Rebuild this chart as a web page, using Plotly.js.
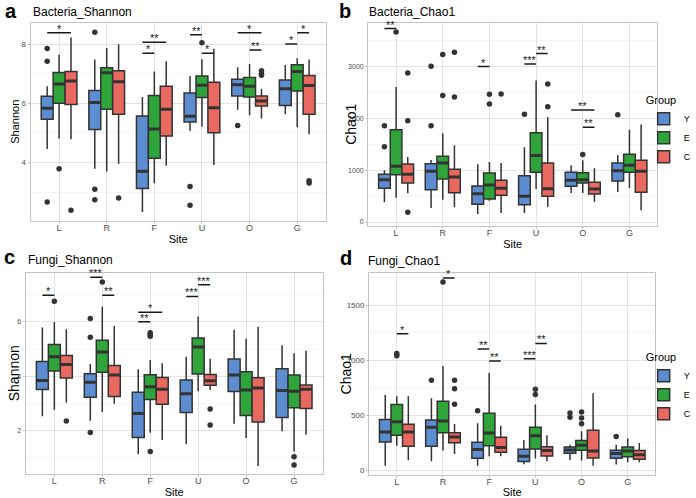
<!DOCTYPE html>
<html><head><meta charset="utf-8">
<script src="https://cdn.plot.ly/plotly-3.0.1.min.js"></script>
<style>html,body{margin:0;padding:0;background:#fff}#chart{width:696px;height:498px}</style>
</head><body><div id="chart"></div>
<script>
const sites = ['L','R','F','U','O','G'];
const groups = ['Y','E','C'];
const groupColors = ['#5b8dd0', '#2ea43a', '#e9685f'];

// Panel a: Bacteria_Shannon  (rows: Y, E, C; columns: L R F U O G)
const aLow  = [[4.46,3.79,2.33,5.07,5.78,5.63],[4.81,3.70,3.30,5.21,5.60,5.19],[4.79,3.96,3.89,3.92,5.49,4.96]];
const aQ1   = [[5.46,5.12,3.13,5.37,6.25,5.93],[6.00,5.80,4.15,6.20,6.21,6.42],[5.96,5.63,4.90,5.01,5.91,5.63]];
const aMed  = [[5.83,6.03,3.71,5.56,6.63,6.49],[6.65,7.03,5.13,6.61,6.58,7.07],[6.75,6.73,5.80,5.85,6.08,6.60]];
const aQ3   = [[6.24,6.43,5.57,6.35,6.81,6.79],[7.04,7.20,6.26,6.92,6.87,7.30],[7.07,7.10,6.58,6.71,6.25,6.94]];
const aHigh = [[6.58,7.48,6.21,6.92,7.22,7.29],[7.64,7.87,7.07,7.49,7.33,7.52],[8.22,7.99,7.42,7.84,6.49,7.48]];
const aOut  = [[[7.85,7.42,2.67],[8.40,3.10,2.75],[],[3.19,2.56],[5.25],[]],
               [[3.79],[],[],[8.04],[],[]],
               [[2.39],[2.81],[],[],[7.10,7.00,6.95],[3.39,3.31]]];
const aSig  = [['L','Y','C',8.38,'*'],['F','Y','E',7.69,'*'],['F','Y','C',8.06,'**'],['U','Y','E',8.31,'**'],
               ['U','E','C',7.69,'*'],['O','Y','C',8.38,'*'],['O','E','C',7.80,'**'],['G','Y','E',8.0,'*'],['G','E','C',8.38,'*']];

// Panel b: Bacteria_Chao1
const bLow  = [[379,270,154,173,558,578],[469,430,411,636,558,655],[552,282,173,295,392,225]];
const bQ1   = [[648,623,340,334,687,790],[912,828,443,957,751,957],[751,565,514,494,539,571]];
const bMed  = [[815,976,546,494,802,989],[1072,1136,713,1278,815,1091],[918,867,648,642,636,976]];
const bQ3   = [[918,1123,693,892,957,1136],[1778,1265,944,1720,950,1303],[1117,1014,803,1136,764,1188]];
const bHigh = [[995,1194,1111,1438,1091,1290],[2600,1708,1156,2722,1188,1778],[1252,1477,1136,2016,1034,1875]];
const bOut  = [[[1855,1451],[2998,1855],[],[2074],[],[2067]],
               [[3660],[3223,2433],[2459,2273],[],[1300],[]],
               [[2870,1950,186],[3268,2408],[2465],[2658,2221],[],[]]];
const bSig  = [['L','Y','E',3724,'**'],['F','Y','E',2992,'*'],['U','Y','E',3043,'***'],['U','E','C',3242,'**'],
               ['O','Y','C',2157,'**'],['O','E','C',1823,'**']];

// Panel c: Fungi_Shannon
const cLow  = [[2.53,2.37,1.14,1.50,2.26,1.98],[2.77,2.69,1.93,3.45,1.73,1.24],[3.04,2.99,1.66,3.50,0.70,1.85]];
const cQ1   = [[3.52,3.23,1.75,2.67,3.44,2.49],[4.20,4.15,3.15,4.09,2.56,2.85],[3.94,3.26,2.97,3.67,2.32,2.82]];
const cMed  = [[3.85,3.78,2.63,3.36,4.05,3.48],[4.72,4.90,3.62,5.08,3.50,3.45],[4.44,4.05,3.53,3.84,3.57,3.53]];
const cQ3   = [[4.55,4.10,3.42,3.87,4.64,4.28],[5.17,5.33,4.06,5.41,4.17,4.05],[4.77,4.40,3.96,4.07,3.95,3.68]];
const cHigh = [[5.80,4.45,4.26,4.72,5.71,5.14],[6.00,6.56,4.60,6.20,5.38,4.85],[5.73,5.85,4.48,4.65,5.82,4.94]];
const cOut  = [[[],[6.13,5.44,1.94],[],[],[],[]],
               [[6.76],[7.47],[5.60,5.53,5.47,1.24],[],[],[1.04,0.74]],
               [[2.36],[],[],[2.80,2.21],[],[]]];
const cSig  = [['L','Y','E',6.98,'*'],['R','Y','E',7.64,'***'],['R','E','C',6.98,'**'],['F','Y','E',6.01,'**'],
               ['F','Y','C',6.36,'*'],['U','Y','E',6.94,'***'],['U','E','C',7.37,'***']];

// Panel d: Fungi_Chao1
const dLow  = [[42,82,42,55,94,52],[224,179,127,106,88,73],[91,148,127,82,42,73]];
const dQ1   = [[258,218,109,79,155,109],[318,342,224,194,182,124],[218,251,164,130,112,100]];
const dMed  = [[348,391,188,127,185,152],[442,448,339,315,227,176],[348,303,206,179,176,142]];
const dQ3   = [[461,458,255,191,212,182],[597,627,518,391,270,212],[418,342,300,215,364,179]];
const dHigh = [[685,654,427,276,233,233],[673,948,885,597,355,288],[673,421,406,318,700,248]];
const dOut  = [[[],[818],[542],[],[520,482],[306]],
               [[1061,1042],[1712],[],[736,688],[530,476,424],[]],
               [[],[818,742,600],[],[],[],[]]];
const dSig  = [['L','E','C',1242,'*'],['R','E','C',1748,'*'],['F','Y','E',1103,'**'],['F','E','C',994,'**'],
               ['U','Y','E',1015,'***'],['U','E','C',1154,'**']];

const panelTitles = ['Bacteria_Shannon','Bacteria_Chao1','Fungi_Shannon','Fungi_Chao1'];
const panelLetters = ['a','b','c','d'];
const yTitles = ['Shannon','Chao1','Shannon','Chao1'];

const panels = [
  {low:aLow,q1:aQ1,med:aMed,q3:aQ3,high:aHigh,out:aOut,sig:aSig},
  {low:bLow,q1:bQ1,med:bMed,q3:bQ3,high:bHigh,out:bOut,sig:bSig},
  {low:cLow,q1:cQ1,med:cMed,q3:cQ3,high:cHigh,out:cOut,sig:cSig},
  {low:dLow,q1:dQ1,med:dMed,q3:dQ3,high:dHigh,out:dOut,sig:dSig}
];

const W = 696, H = 498;
const px = v => v / W, py = v => 1 - v / H;
const boxW = 0.25;                       // ggplot2 dodge width 0.75 / 3 groups
const offsets = {Y:-boxW, E:0, C:boxW};
const FONT = 'Liberation Sans, Arial, sans-serif';
const siteIdx = sites.map((s, i) => i);

const traces = [];
const outlierTraces = [];
const shapes = [];
const annotations = [];

panels.forEach((p, pi) => {
  const sfx = pi === 0 ? '' : String(pi + 1);
  groups.forEach((g, gi) => {
    const xs = siteIdx.map(i => i + offsets[g]);
    traces.push({
      type: 'box',
      name: g,
      x: xs,
      q1: p.q1[gi], median: p.med[gi], q3: p.q3[gi],
      lowerfence: p.low[gi], upperfence: p.high[gi],
      width: boxW,
      boxpoints: false,
      whiskerwidth: 0,
      fillcolor: groupColors[gi],
      line: {color: '#333333', width: 1.5},
      xaxis: 'x' + sfx, yaxis: 'y' + sfx,
      legendgroup: g,
      showlegend: pi === 1 || pi === 3,
      legend: pi === 3 ? 'legend2' : 'legend',
      hoverinfo: 'skip'
    });
    const ox = [], oy = [];
    p.out[gi].forEach((vals, si) => vals.forEach(v => { ox.push(si + offsets[g]); oy.push(v); }));
    outlierTraces.push({
      type: 'scatter', mode: 'markers', x: ox, y: oy,
      marker: {color: '#333333', size: 5.5},
      xaxis: 'x' + sfx, yaxis: 'y' + sfx, showlegend: false, hoverinfo: 'skip', cliponaxis: false
    });
    // thicker median lines, as in ggplot2
    siteIdx.forEach(si => {
      const cx = si + offsets[g];
      shapes.push({type:'line', xref:'x'+sfx, yref:'y'+sfx,
        x0: cx - boxW/2 + 0.012, x1: cx + boxW/2 - 0.012, y0: p.med[gi][si], y1: p.med[gi][si],
        line:{color:'#333333', width:3}});
    });
  });
  p.sig.forEach(([s, g1, g2, lvl, lab]) => {
    const si = sites.indexOf(s);
    const x0 = si + offsets[g1], x1 = si + offsets[g2];
    shapes.push({type:'line', xref:'x'+sfx, yref:'y'+sfx, x0:x0, x1:x1, y0:lvl, y1:lvl,
      line:{color:'#1a1a1a', width:1.5}});
    annotations.push({xref:'x'+sfx, yref:'y'+sfx, x:(x0+x1)/2, y:lvl, text:lab, showarrow:false,
      yanchor:'bottom', yshift:-4, font:{family:FONT, size:11, color:'#1a1a1a'}});
  });
});

// panel geometry (pixels)
const geo = [
  {x0:31, x1:331, y0:23, y1:221, letterX:3, letterY:11, titleX:31, titleY:12, ytX:15},
  {x0:374, x1:668, y0:23, y1:226, letterX:342, letterY:11, titleX:373, titleY:12, ytX:356},
  {x0:26, x1:328, y0:273, y1:474, letterX:2, letterY:257, titleX:26, titleY:260, ytX:14},
  {x0:375, x1:666, y0:273, y1:475, letterX:343, letterY:258, titleX:372, titleY:261, ytX:352}
];
const yRanges = [[2.03, 8.71], [-77, 3831], [0.41, 7.80], [-43, 1794]];
const yDticks = [2, 1000, 2, 500];
const yTickSize = [8, 7, 7, 8];
const yTitleSize = [11, 14, 14, 14];

const layout = {
  width: W, height: H,
  margin: {l:0, r:0, t:0, b:0},
  paper_bgcolor: '#ffffff', plot_bgcolor: '#ffffff',
  boxmode: 'overlay',
  font: {family: FONT, color: '#000'},
  shapes: shapes,
  annotations: annotations,
  legend: {x: px(654), xanchor:'left', y: py(90), yanchor:'top',
    title:{text:'Group', font:{family:FONT, size:11, color:'#000'}},
    font:{family:FONT, size:9, color:'#000'}, tracegroupgap:0, bgcolor:'rgba(0,0,0,0)'},
  legend2: {x: px(654), xanchor:'left', y: py(347), yanchor:'top',
    title:{text:'Group', font:{family:FONT, size:11, color:'#000'}},
    font:{family:FONT, size:9, color:'#000'}, tracegroupgap:0, bgcolor:'rgba(0,0,0,0)'}
};

geo.forEach((gm, pi) => {
  const sfx = pi === 0 ? '' : String(pi + 1);
  layout['xaxis' + sfx] = {
    domain: [px(gm.x0), px(gm.x1)], anchor: 'y' + sfx,
    type: 'linear', range: [-0.6, 5.6],
    tickmode: 'array', tickvals: siteIdx, ticktext: sites,
    showgrid: true, gridcolor: '#e3e3e3', gridwidth: 1,
    showline: true, mirror: true, linecolor: '#c4c4c4', linewidth: 1,
    ticks: 'outside', ticklen: 2, tickcolor: '#c4c4c4',
    ticklabelstandoff: -4,
    tickfont: {family: FONT, size: 9, color: '#4d4d4d'},
    title: {text: 'Site', standoff: pi < 2 ? 3 : 5, font: {family: FONT, size: 11, color: '#000'}},
    zeroline: false, fixedrange: true
  };
  layout['yaxis' + sfx] = {
    domain: [py(gm.y1), py(gm.y0)], anchor: 'x' + sfx,
    range: yRanges[pi], dtick: yDticks[pi], tick0: 0,
    showgrid: true, gridcolor: '#e3e3e3', gridwidth: 1,
    minor: {dtick: yDticks[pi] / 2, showgrid: true, gridcolor: '#eeeeee', gridwidth: 0.6, ticks: ''},
    showline: true, mirror: true, linecolor: '#c4c4c4', linewidth: 1,
    ticks: 'outside', ticklen: 2, tickcolor: '#c4c4c4',
    tickfont: {family: FONT, size: yTickSize[pi], color: '#4d4d4d'},
    zeroline: false, fixedrange: true
  };
  annotations.push({xref:'paper', yref:'paper', x: px(gm.ytX), y: py((gm.y0 + gm.y1) / 2), xanchor:'center', yanchor:'middle',
    textangle: -90, text: yTitles[pi], showarrow:false, font:{family:FONT, size:yTitleSize[pi], color:'#000'}});
  annotations.push({xref:'paper', yref:'paper', x: px(gm.letterX), y: py(gm.letterY), xanchor:'left', yanchor:'middle',
    text: '<b>' + panelLetters[pi] + '</b>', showarrow:false, font:{family:FONT, size:20, color:'#000'}});
  annotations.push({xref:'paper', yref:'paper', x: px(gm.titleX), y: py(gm.titleY), xanchor:'left', yanchor:'middle',
    text: panelTitles[pi], showarrow:false, font:{family:FONT, size:12, color:'#000'}});
});

Plotly.newPlot('chart', traces.concat(outlierTraces), layout, {displayModeBar:false, staticPlot:true});
</script>
</body></html>
